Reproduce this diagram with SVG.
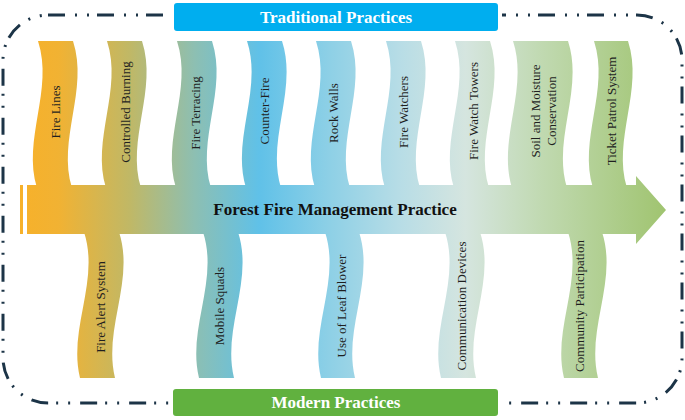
<svg xmlns="http://www.w3.org/2000/svg" width="685" height="420" viewBox="0 0 685 420">
<defs>
<linearGradient id="g" gradientUnits="userSpaceOnUse" x1="20" y1="0" x2="666" y2="0">
<stop offset="0" stop-color="#f7b12a"/>
<stop offset="0.06" stop-color="#f1b233"/>
<stop offset="0.17" stop-color="#c0b866"/>
<stop offset="0.27" stop-color="#8dbfb2"/>
<stop offset="0.37" stop-color="#60c1e8"/>
<stop offset="0.48" stop-color="#8ed0e6"/>
<stop offset="0.59" stop-color="#b8dde6"/>
<stop offset="0.69" stop-color="#d5e5df"/>
<stop offset="0.81" stop-color="#c0d9b0"/>
<stop offset="1" stop-color="#a0c470"/>
</linearGradient>
<style>
.rib{fill:url(#g);}
.lbl{font-family:"Liberation Serif","Times New Roman",serif;font-size:13px;fill:#1f1f1f;text-anchor:middle;dominant-baseline:central;}
.hdr{font-family:"Liberation Serif","Times New Roman",serif;font-size:17px;font-weight:bold;fill:#ffffff;text-anchor:middle;}
.ttl{font-family:"Liberation Serif","Times New Roman",serif;font-size:17px;font-weight:bold;fill:#111111;text-anchor:middle;}
.frame{fill:none;stroke:#1c3447;stroke-width:3;stroke-dasharray:17 10 2 10 2 8;}
</style>
</defs>
<g id="frame"><rect class="frame" x="3" y="15" width="679" height="388" rx="45" ry="45"/></g>
<g id="connectors"></g>
<g id="fire-lines"><path class="rib" d="M38,41 C54,90 22,139 37,188 L72,188 C57,139 89,90 73,41 Z"/><text class="lbl" transform="translate(55,112) rotate(-90)">Fire Lines</text></g>
<g id="controlled-burning"><path class="rib" d="M107,41 C123,90 91,139 106,188 L141,188 C126,139 158,90 142,41 Z"/><text class="lbl" transform="translate(125,112) rotate(-90)">Controlled Burning</text></g>
<g id="fire-terracing"><path class="rib" d="M177,41 C193,90 161,139 176,188 L211,188 C196,139 228,90 212,41 Z"/><text class="lbl" transform="translate(195,113) rotate(-90)">Fire Terracing</text></g>
<g id="counter-fire"><path class="rib" d="M247,41 C263,90 231,139 246,188 L281,188 C266,139 298,90 282,41 Z"/><text class="lbl" transform="translate(264,111) rotate(-90)">Counter-Fire</text></g>
<g id="rock-walls"><path class="rib" d="M316,41 C332,90 300,139 315,188 L350,188 C335,139 367,90 351,41 Z"/><text class="lbl" transform="translate(333,113) rotate(-90)">Rock Walls</text></g>
<g id="fire-watchers"><path class="rib" d="M386,41 C402,90 370,139 385,188 L420,188 C405,139 437,90 421,41 Z"/><text class="lbl" transform="translate(403,112) rotate(-90)">Fire Watchers</text></g>
<g id="fire-watch-towers"><path class="rib" d="M455,41 C471,90 439,139 454,188 L489,188 C474,139 506,90 490,41 Z"/><text class="lbl" transform="translate(473,111) rotate(-90)">Fire Watch Towers</text></g>
<g id="soil-moisture"><path class="rib" d="M513,41 C529,90 497,139 512,188 L567,188 C552,139 584,90 568,41 Z"/><text class="lbl" transform="translate(543,111) rotate(-90)"><tspan x="0" y="-8">Soil and Moisture</tspan><tspan x="0" y="8">Conservation</tspan></text></g>
<g id="ticket-patrol"><path class="rib" d="M594,41 C610,90 578,139 593,188 L627,188 C612,139 644,90 628,41 Z"/><text class="lbl" transform="translate(611,111) rotate(-90)">Ticket Patrol System</text></g>
<g id="fire-alert"><path class="rib" d="M84,232 C100,281 68,329 80,378 L115,378 C103,329 135,281 119,232 Z"/><text class="lbl" transform="translate(100,307) rotate(-90)">Fire Alert System</text></g>
<g id="mobile-squads"><path class="rib" d="M203,232 C219,281 187,329 199,378 L234,378 C222,329 254,281 238,232 Z"/><text class="lbl" transform="translate(219,306) rotate(-90)">Mobile Squads</text></g>
<g id="leaf-blower"><path class="rib" d="M325,232 C341,281 309,329 321,378 L355,378 C343,329 375,281 359,232 Z"/><text class="lbl" transform="translate(341,306) rotate(-90)">Use of Leaf Blower</text></g>
<g id="communication"><path class="rib" d="M445,232 C461,281 429,329 441,378 L476,378 C464,329 496,281 480,232 Z"/><text class="lbl" transform="translate(461,306) rotate(-90)">Communication Devices</text></g>
<g id="community"><path class="rib" d="M568,232 C584,281 552,329 564,378 L598,378 C586,329 618,281 602,232 Z"/><text class="lbl" transform="translate(579,306) rotate(-90)">Community Participation</text></g>
<g id="main-arrow"><rect class="rib" x="20" y="185" width="3" height="49"/><path class="rib" d="M27,185 H636 V176 L666,210 L636,244 V234 H27 Z"/><text class="ttl" x="335" y="215">Forest Fire Management Practice</text></g>
<g id="traditional"><rect x="172" y="1" width="328" height="32" rx="5" ry="5" fill="#00aeef" stroke="#ffffff" stroke-width="4"/><text class="hdr" x="336" y="23">Traditional Practices</text></g>
<g id="modern"><rect x="171" y="387" width="329" height="31" rx="5" ry="5" fill="#61b13f" stroke="#ffffff" stroke-width="4"/><text class="hdr" x="336" y="408">Modern Practices</text></g>
</svg>
